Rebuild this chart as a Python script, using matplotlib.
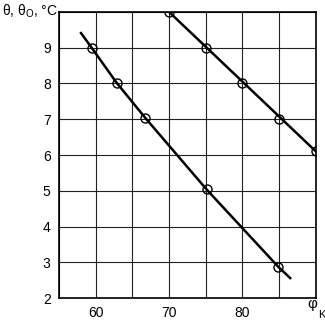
import matplotlib
matplotlib.use("Agg")
import matplotlib.pyplot as plt

plt.rcParams['font.family'] = ['Liberation Sans', 'DejaVu Sans']
plt.rcParams['mathtext.fontset'] = 'custom'
plt.rcParams['mathtext.rm'] = 'Liberation Sans'

# upper line (theta_o)
x_top = [70, 75, 80, 85, 90]
y_top = [10, 9, 8, 7, 6.1]
line_top_x = [70, 90]
line_top_y = [10, 6.1]

# lower line (theta), slightly curved
x_low = [59.45, 62.85, 66.75, 75.1, 84.9]
y_low = [9, 8.02, 7.04, 5.04, 2.87]
line_low_x = [58.0, 59.45, 62.85, 66.75, 75.1, 84.9, 86.5]
line_low_y = [9.41, 9, 8.02, 7.04, 5.04, 2.87, 2.56]

xticks = [60, 70, 80]
yticks = [2, 3, 4, 5, 6, 7, 8, 9]

fig = plt.figure(figsize=(3.25, 3.23), dpi=100)
ax = fig.add_axes([0.1815, 0.077, 0.7905, 0.886])

for v in range(55, 91, 5):
    ax.axvline(v, color='#222222', lw=0.8, zorder=1)
for v in range(2, 11):
    ax.axhline(v, color='#222222', lw=0.8, zorder=1)

ax.plot(line_top_x, line_top_y, color='black', lw=1.8, zorder=2)
ax.plot(line_low_x, line_low_y, color='black', lw=1.8, zorder=2)
ax.plot(x_top, y_top, 'o', ms=6.5, mfc='none', mec='black', mew=1.0, zorder=3)
ax.plot(x_low, y_low, 'o', ms=6.5, mfc='none', mec='black', mew=1.0, zorder=3)

ax.set_xlim(55, 90)
ax.set_ylim(2, 10)
ax.set_xticks(xticks)
ax.set_yticks(yticks)
ax.tick_params(length=0, labelsize=10, pad=6)
for s in ax.spines.values():
    s.set_linewidth(1.2)

fig.text(0.005, 0.965, r"θ, θ$_\mathrm{O}$, °C", fontsize=10, va='center', ha='left')
fig.text(0.962, 0.058, "φ", fontsize=11, va='center', ha='center')
fig.text(0.99, 0.025, "K", fontsize=8, va='center', ha='center')

fig.savefig("out.png", dpi=100)
